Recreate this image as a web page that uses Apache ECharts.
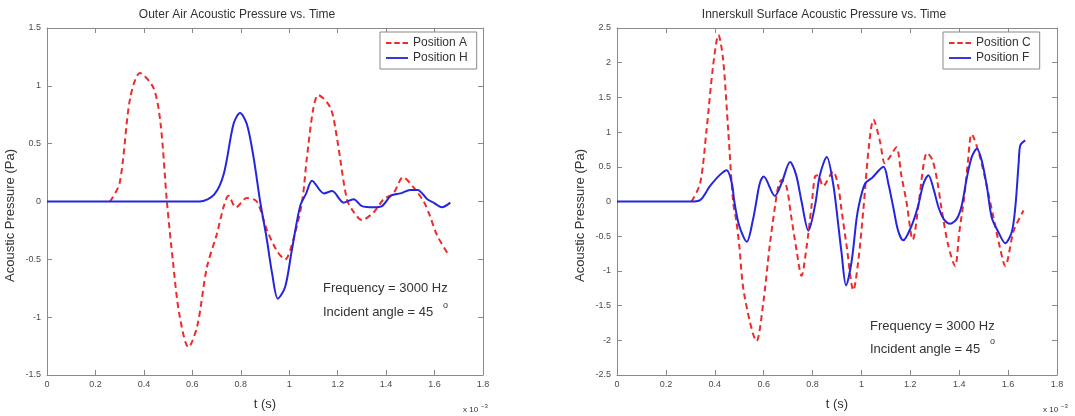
<!DOCTYPE html>
<html>
<head>
<meta charset="utf-8">
<script src="https://cdn.jsdelivr.net/npm/echarts@6/dist/echarts.min.js"></script>
<style>
html,body{margin:0;padding:0;background:#fff;}
#c{width:1075px;height:416px;}
</style>
</head>
<body>
<div id="c"></div>
<script>
// ---- Left chart: Outer Air (red trace is hidden under the blue one while it is 0, so it starts at its onset) ----
const tA = [0.26, 0.30, 0.343, 0.384, 0.44, 0.469, 0.495, 0.52, 0.546, 0.584, 0.62, 0.66, 0.70, 0.73, 0.749, 0.78, 0.825, 0.866, 0.907, 0.95, 0.983, 1.018, 1.053, 1.073, 1.10, 1.12, 1.17, 1.197, 1.238, 1.266, 1.30, 1.35, 1.39, 1.43, 1.47, 1.51, 1.555, 1.58, 1.61, 1.66];
const pA = [0, 0.16, 0.89, 1.11, 0.98, 0.67, 0, -0.52, -0.97, -1.26, -1.08, -0.57, -0.29, -0.04, 0.05, -0.05, 0.03, 0, -0.24, -0.43, -0.50, -0.32, 0, 0.38, 0.81, 0.92, 0.81, 0.55, 0.02, -0.09, -0.16, -0.09, 0.02, 0.07, 0.21, 0.13, 0, -0.12, -0.29, -0.47];
const tH = [0, 0.63, 0.69, 0.73, 0.77, 0.797, 0.825, 0.853, 0.88, 0.907, 0.93, 0.953, 0.983, 1.01, 1.045, 1.07, 1.094, 1.143, 1.177, 1.225, 1.266, 1.30, 1.35, 1.383, 1.42, 1.46, 1.50, 1.53, 1.57, 1.596, 1.63, 1.665];
const pH = [0, 0, 0.06, 0.24, 0.67, 0.765, 0.67, 0.38, 0, -0.32, -0.63, -0.84, -0.74, -0.43, -0.04, 0.07, 0.18, 0.07, 0.09, -0.01, 0.02, -0.04, -0.05, -0.04, 0.05, 0.07, 0.10, 0.10, 0.02, -0.01, -0.05, -0.01];

// ---- Right chart: Innerskull Surface ----
const tC = [0.305, 0.34, 0.366, 0.393, 0.415, 0.434, 0.455, 0.475, 0.489, 0.50, 0.52, 0.571, 0.598, 0.625, 0.646, 0.66, 0.673, 0.693, 0.712, 0.733, 0.755, 0.775, 0.796, 0.81, 0.823, 0.843, 0.884, 0.905, 0.918, 0.939, 0.967, 0.987, 1.008, 1.03, 1.049, 1.075, 1.096, 1.116, 1.143, 1.163, 1.184, 1.21, 1.235, 1.255, 1.268, 1.29, 1.31, 1.328, 1.355, 1.383, 1.40, 1.42, 1.435, 1.451, 1.485, 1.52, 1.54, 1.567, 1.588, 1.623, 1.663];
const pC = [0, 0.26, 1.02, 1.95, 2.40, 2.05, 1.02, 0, -0.30, -0.63, -1.33, -2.01, -1.47, -0.63, -0.08, 0.22, 0.31, 0.22, -0.20, -0.67, -1.07, -0.67, -0.06, 0.36, 0.38, 0.22, 0.43, 0.22, -0.11, -0.63, -1.28, -0.86, -0.11, 0.78, 1.18, 0.88, 0.55, 0.64, 0.78, 0.38, 0, -0.55, 0, 0.55, 0.70, 0.6, 0.3, -0.11, -0.63, -0.93, -0.45, 0.05, 0.55, 0.97, 0.64, 0.1, -0.23, -0.67, -0.93, -0.42, -0.13];
const tF = [0, 0.30, 0.34, 0.38, 0.42, 0.449, 0.47, 0.48, 0.50, 0.531, 0.557, 0.57, 0.584, 0.60, 0.646, 0.673, 0.708, 0.733, 0.755, 0.783, 0.81, 0.83, 0.858, 0.884, 0.905, 0.918, 0.937, 0.96, 0.98, 0.993, 1.015, 1.043, 1.09, 1.11, 1.13, 1.15, 1.171, 1.205, 1.232, 1.254, 1.274, 1.295, 1.315, 1.336, 1.363, 1.39, 1.41, 1.43, 1.451, 1.472, 1.492, 1.513, 1.533, 1.56, 1.588, 1.615, 1.63, 1.643, 1.65, 1.67];
const pF = [0, 0, 0.02, 0.22, 0.38, 0.45, 0.26, 0, -0.35, -0.58, -0.25, 0, 0.26, 0.36, 0.08, 0.26, 0.57, 0.38, 0, -0.42, -0.06, 0.38, 0.64, 0.26, -0.33, -0.72, -1.21, -0.86, -0.25, 0, 0.26, 0.34, 0.50, 0.26, -0.08, -0.42, -0.56, -0.35, -0.06, 0.26, 0.38, 0.18, -0.08, -0.25, -0.32, -0.25, -0.06, 0.32, 0.64, 0.76, 0.59, 0.22, -0.23, -0.44, -0.60, -0.44, -0.06, 0.55, 0.81, 0.88];

const titles = ['Outer Air Acoustic Pressure vs. Time', 'Innerskull Surface Acoustic Pressure vs. Time'];
const namesL = ['Position A', 'Position H'];
const namesR = ['Position C', 'Position F'];
const yLabel = 'Acoustic Pressure (Pa)';
const xLabel = 't (s)';
const xMult = 'x 10';
const xExp = '\u22123';
const noteFreq = 'Frequency = 3000 Hz';
const noteAngle = 'Incident angle = 45';
const degree = 'o';

const FONT = '"Liberation Sans", Arial, Helvetica, sans-serif';
const RED = '#ee2b2b';
const BLUE = '#2525e0';
const AX = '#8a8a8a';
const LBL = '#4a4a4a';
const DASH_ICON = 'path://M0,0h6v2h-6z M9,0h6v2h-6z M18,0h6v2h-6z';
const SOLID_ICON = 'path://M0,0h24v2h-24z';

function zip(t, p) { return t.map((v, i) => [v, p[i]]); }

const grids = [
  { left: 47, top: 28, width: 436, height: 355 },
  { left: 617, top: 28, width: 440, height: 355 }
];

function xAx(gi, pos, show) {
  return {
    type: 'value', gridIndex: gi, position: pos, min: 0, max: 1.8, interval: 0.2,
    name: show ? xLabel : '', nameLocation: 'middle', nameGap: 23,
    nameTextStyle: { fontFamily: FONT, fontSize: 13, color: '#333' },
    axisLine: { show: true, onZero: false, lineStyle: { color: AX, width: 1 } },
    axisTick: { show: true, inside: true, length: 5, lineStyle: { color: AX } },
    axisLabel: { show: show, fontFamily: FONT, fontSize: 9, color: LBL, margin: 5,
      formatter: v => (Math.round(v * 10) / 10).toString() },
    splitLine: { show: false }
  };
}
function yAx(gi, pos, show, mn, mx) {
  return {
    type: 'value', gridIndex: gi, position: pos, min: mn, max: mx, interval: 0.5,
    name: show ? yLabel : '', nameLocation: 'middle', nameGap: 30, nameRotate: 90,
    nameTextStyle: { fontFamily: FONT, fontSize: 13, color: '#333', padding: [0, 28, 0, 0] },
    axisLine: { show: true, onZero: false, lineStyle: { color: AX, width: 1 } },
    axisTick: { show: true, inside: true, length: 5, lineStyle: { color: AX } },
    axisLabel: { show: show, fontFamily: FONT, fontSize: 9, color: LBL, margin: 6,
      formatter: v => (Math.round(v * 10) / 10).toString() },
    splitLine: { show: false }
  };
}

function lineSeries(name, xi, yi, data, color, dashed) {
  return {
    name: name, type: 'line', xAxisIndex: xi, yAxisIndex: yi, data: data,
    smooth: 0.3, symbol: 'none', showSymbol: false,
    lineStyle: { color: color, width: 2, type: dashed ? [6, 4] : 'solid' },
    itemStyle: { color: color },
    z: dashed ? 2 : 10
  };
}

function legend(left, names, w) {
  return {
    orient: 'vertical', left: left, top: 32, width: w,
    data: [{ name: names[0], icon: DASH_ICON }, { name: names[1], icon: SOLID_ICON }],
    itemWidth: 22, itemHeight: 2, itemGap: 3,
    padding: [5, 9, 5, 6],
    borderColor: '#888', borderWidth: 1, backgroundColor: '#fff',
    textStyle: { fontFamily: FONT, fontSize: 12, color: '#333', lineHeight: 12 },
    selectedMode: false, z: 20
  };
}

function txt(x, y, s, size, align) {
  return { type: 'text', x: x, y: y, z: 10,
    style: { text: s, fontFamily: FONT, fontSize: size, fill: '#333',
      align: align || 'left', verticalAlign: 'middle' } };
}

const chart = echarts.init(document.getElementById('c'), null, { renderer: 'canvas' });
chart.setOption({
  animation: false,
  backgroundColor: '#fff',
  grid: grids,
  xAxis: [xAx(0, 'bottom', true), xAx(1, 'bottom', true), xAx(0, 'top', false), xAx(1, 'top', false)],
  yAxis: [yAx(0, 'left', true, -1.5, 1.5), yAx(1, 'left', true, -2.5, 2.5), yAx(0, 'right', false, -1.5, 1.5), yAx(1, 'right', false, -2.5, 2.5)],
  legend: [legend(380, namesL, 98), legend(943, namesR, 110)],
  series: [
    lineSeries(namesL[0], 0, 0, zip(tA, pA), RED, true),
    lineSeries(namesR[0], 1, 1, zip(tC, pC), RED, true),
    lineSeries(namesL[1], 0, 0, zip(tH, pH), BLUE, false),
    lineSeries(namesR[1], 1, 1, zip(tF, pF), BLUE, false)
  ],
  graphic: [
    txt(237, 15, titles[0], 12, 'center'),
    txt(824, 15, titles[1], 12, 'center'),
    txt(323, 288, noteFreq, 13),
    txt(323, 312, noteAngle, 13),
    txt(443, 306, degree, 9),
    txt(870, 326, noteFreq, 13),
    txt(870, 349, noteAngle, 13),
    txt(990, 342, degree, 9),
    txt(463, 410, xMult, 8),
    txt(481, 406, xExp, 6),
    txt(1043, 410, xMult, 8),
    txt(1061, 406, xExp, 6)
  ]
});
</script>
</body>
</html>
